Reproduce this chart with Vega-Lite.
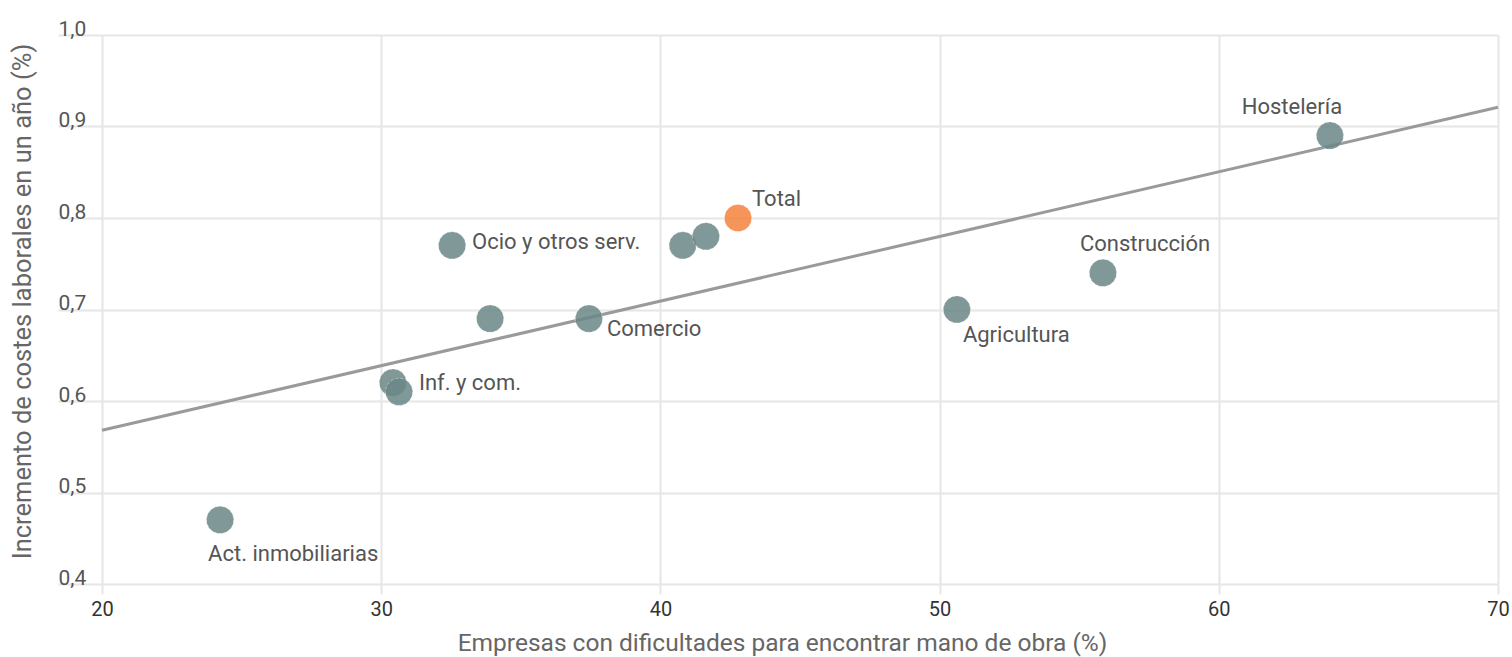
{
  "$schema": "https://vega.github.io/schema/vega-lite/v6.json",
  "width": 1396,
  "height": 549,
  "autosize": {"type": "none"},
  "padding": {"left": 102, "top": 35, "right": 14, "bottom": 73},
  "background": "white",
  "config": {
    "view": {"stroke": null},
    "font": "Roboto",
    "axis": {
      "gridColor": "#e6e6e6",
      "gridWidth": 2,
      "tickColor": "#e6e6e6",
      "tickWidth": 2,
      "domain": false,
      "labelFont": "Roboto",
      "labelFontSize": 20,
      "labelFlush": false,
      "labelOverlap": false,
      "titleFont": "Roboto",
      "titleFontSize": 24,
      "titleFontWeight": "normal",
      "titleColor": "#666666"
    }
  },
  "datasets": {
    "sectores": [
      {"sector": "Act. inmobiliarias", "etiqueta": "Act. inmobiliarias", "grupo": "Sector", "dificultad": 24.23, "costes": 0.47},
      {"sector": "Inf. y com.", "etiqueta": "Inf. y com.", "grupo": "Sector", "dificultad": 30.42, "costes": 0.62},
      {"sector": "Inf. y com. (2)", "etiqueta": "", "grupo": "Sector", "dificultad": 30.64, "costes": 0.61},
      {"sector": "Ocio y otros serv.", "etiqueta": "Ocio y otros serv.", "grupo": "Sector", "dificultad": 32.54, "costes": 0.77},
      {"sector": "Otro sector A", "etiqueta": "", "grupo": "Sector", "dificultad": 33.9, "costes": 0.69},
      {"sector": "Comercio", "etiqueta": "Comercio", "grupo": "Sector", "dificultad": 37.44, "costes": 0.69},
      {"sector": "Otro sector B", "etiqueta": "", "grupo": "Sector", "dificultad": 40.8, "costes": 0.77},
      {"sector": "Otro sector C", "etiqueta": "", "grupo": "Sector", "dificultad": 41.63, "costes": 0.78},
      {"sector": "Total", "etiqueta": "Total", "grupo": "Total", "dificultad": 42.78, "costes": 0.80},
      {"sector": "Agricultura", "etiqueta": "Agricultura", "grupo": "Sector", "dificultad": 50.62, "costes": 0.70},
      {"sector": "Construcción", "etiqueta": "Construcción", "grupo": "Sector", "dificultad": 55.85, "costes": 0.74},
      {"sector": "Hostelería", "etiqueta": "Hostelería", "grupo": "Sector", "dificultad": 63.98, "costes": 0.89}
    ],
    "tendencia": [
      {"dificultad": 20, "costes": 0.568},
      {"dificultad": 70, "costes": 0.921}
    ]
  },
  "encoding": {
    "x": {
      "field": "dificultad", "type": "quantitative",
      "scale": {"domain": [20, 70], "nice": false, "zero": false},
      "axis": {
        "title": "Empresas con dificultades para encontrar mano de obra (%)",
        "values": [20, 30, 40, 50, 60, 70],
        "tickSize": 10,
        "labelPadding": 5,
        "labelColor": "#333333",
        "titleFontSize": 24.5,
        "titleX": 680,
        "titleY": 59,
        "titleBaseline": "middle",
        "titleAlign": "center"
      }
    },
    "y": {
      "field": "costes", "type": "quantitative",
      "scale": {"domain": [0.4, 1.0], "nice": false, "zero": false},
      "axis": {
        "title": "Incremento de costes laborales en un año (%)",
        "values": [0.4, 0.5, 0.6, 0.7, 0.8, 0.9, 1.0],
        "labelExpr": "replace(format(datum.value, '.1f'), '.', ',')",
        "tickSize": 44,
        "labelPadding": 0,
        "labelAlign": "left",
        "labelBaseline": "alphabetic",
        "labelFontSize": 21,
        "labelDy": -7,
        "labelColor": "#555555",
        "titleFontSize": 25.5,
        "titleAngle": 270,
        "titleX": -80,
        "titleY": 266,
        "titleBaseline": "middle",
        "titleAlign": "center"
      }
    }
  },
  "layer": [
    {
      "data": {"name": "tendencia"},
      "mark": {"type": "line", "color": "#9a9a9a", "strokeWidth": 3},
      "encoding": {}
    },
    {
      "data": {"name": "sectores"},
      "mark": {"type": "circle", "size": 740, "opacity": 0.85, "stroke": "#ffffff", "strokeOpacity": 0.45, "strokeWidth": 1, "strokeDash": [3, 2]},
      "encoding": {
        "color": {
          "field": "grupo", "type": "nominal",
          "scale": {"domain": ["Sector", "Total"], "range": ["#6a8787", "#f5833e"]},
          "legend": null
        }
      }
    },
    {
      "data": {"name": "sectores"},
      "transform": [{"filter": "datum.etiqueta === 'Hostelería'"}],
      "mark": {"type": "text", "align": "center", "baseline": "middle", "dx": -38, "dy": -29, "fontSize": 22, "color": "#555555", "font": "Roboto"},
      "encoding": {"text": {"field": "etiqueta"}}
    },
    {
      "data": {"name": "sectores"},
      "transform": [{"filter": "datum.etiqueta === 'Total'"}],
      "mark": {"type": "text", "align": "left", "baseline": "middle", "dx": 14, "dy": -19, "fontSize": 22, "color": "#555555", "font": "Roboto"},
      "encoding": {"text": {"field": "etiqueta"}}
    },
    {
      "data": {"name": "sectores"},
      "transform": [{"filter": "datum.etiqueta === 'Ocio y otros serv.'"}],
      "mark": {"type": "text", "align": "left", "baseline": "middle", "dx": 20, "dy": -3, "fontSize": 22, "color": "#555555", "font": "Roboto"},
      "encoding": {"text": {"field": "etiqueta"}}
    },
    {
      "data": {"name": "sectores"},
      "transform": [{"filter": "datum.etiqueta === 'Comercio'"}],
      "mark": {"type": "text", "align": "left", "baseline": "middle", "dx": 18, "dy": 10, "fontSize": 22, "color": "#555555", "font": "Roboto"},
      "encoding": {"text": {"field": "etiqueta"}}
    },
    {
      "data": {"name": "sectores"},
      "transform": [{"filter": "datum.etiqueta === 'Inf. y com.'"}],
      "mark": {"type": "text", "align": "left", "baseline": "middle", "dx": 26, "dy": 0, "fontSize": 22, "color": "#555555", "font": "Roboto"},
      "encoding": {"text": {"field": "etiqueta"}}
    },
    {
      "data": {"name": "sectores"},
      "transform": [{"filter": "datum.etiqueta === 'Agricultura'"}],
      "mark": {"type": "text", "align": "left", "baseline": "middle", "dx": 6, "dy": 25, "fontSize": 22, "color": "#555555", "font": "Roboto"},
      "encoding": {"text": {"field": "etiqueta"}}
    },
    {
      "data": {"name": "sectores"},
      "transform": [{"filter": "datum.etiqueta === 'Construcción'"}],
      "mark": {"type": "text", "align": "left", "baseline": "middle", "dx": -23, "dy": -29, "fontSize": 22, "color": "#555555", "font": "Roboto"},
      "encoding": {"text": {"field": "etiqueta"}}
    },
    {
      "data": {"name": "sectores"},
      "transform": [{"filter": "datum.etiqueta === 'Act. inmobiliarias'"}],
      "mark": {"type": "text", "align": "left", "baseline": "middle", "dx": -12, "dy": 34, "fontSize": 22, "color": "#555555", "font": "Roboto"},
      "encoding": {"text": {"field": "etiqueta"}}
    }
  ]
}
